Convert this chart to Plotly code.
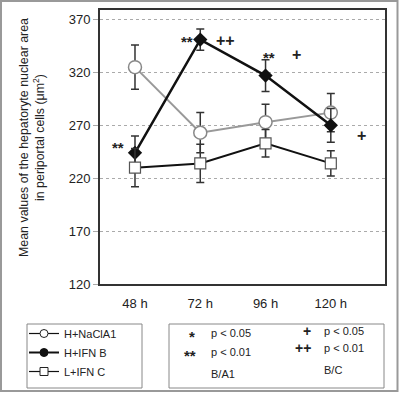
import plotly.graph_objects as go

W, H = 400, 393
categories = ["48 h", "72 h", "96 h", "120 h"]
a1_vals = [325, 263, 273, 282]
a1_err = [21, 19, 17, 18]
b_vals = [244, 351, 317, 270]
b_err = [16, 10, 15, 16]
c_vals = [230, 234, 253, 234]
c_err = [18, 18, 13, 12]
series_names = ["H+NaClA1", "H+IFN B", "L+IFN C"]
y_ticks = [120, 170, 220, 270, 320, 370]


def px(x):
    return x / W


def py(y):
    return 1 - y / H


fig = go.Figure()
fig.add_trace(go.Scatter(
    x=categories, y=a1_vals, name=series_names[0], mode="lines+markers", showlegend=False,
    line=dict(color="#999999", width=2),
    marker=dict(symbol="circle", size=13, color="white", line=dict(color="#888888", width=1.5)),
    error_y=dict(type="data", array=a1_err, color="#333333", thickness=1.5, width=4),
))
fig.add_trace(go.Scatter(
    x=categories, y=b_vals, name=series_names[1], mode="lines+markers", showlegend=False,
    line=dict(color="#111111", width=2.5),
    marker=dict(symbol="diamond", size=11, color="#111111"),
    error_y=dict(type="data", array=b_err, color="#333333", thickness=1.5, width=4),
))
fig.add_trace(go.Scatter(
    x=categories, y=c_vals, name=series_names[2], mode="lines+markers", showlegend=False,
    line=dict(color="#111111", width=2),
    marker=dict(symbol="square", size=11, color="white", line=dict(color="#555555", width=1.2)),
    error_y=dict(type="data", array=c_err, color="#333333", thickness=1.5, width=4),
))

# legend entries (smaller symbols, as in the reference key)
legend_styles = [
    dict(symbol="circle", color="white", line=dict(color="#222222", width=1)),
    dict(symbol="circle", color="#111111", line=dict(color="#111111", width=1)),
    dict(symbol="square", color="white", line=dict(color="#222222", width=1)),
]
for name, ms, lw in zip(series_names, legend_styles, [1.2, 2, 1.2]):
    fig.add_trace(go.Scatter(x=[None], y=[None], name=name, mode="lines+markers",
                             line=dict(color="#111111", width=lw),
                             marker=dict(size=8, **ms)))

font = dict(family="Arial, 'Liberation Sans', sans-serif", color="#222222")

fig.update_layout(
    width=W, height=H,
    margin=dict(l=0, r=0, t=0, b=0),
    paper_bgcolor="white", plot_bgcolor="white",
    font=dict(**font, size=12),
    showlegend=True,
    legend=dict(x=px(24), y=py(319), xanchor="left", yanchor="top",
                bgcolor="rgba(0,0,0,0)", borderwidth=0, itemwidth=30,
                font=dict(**font, size=11), tracegroupgap=0),
    xaxis=dict(domain=[px(100), px(385)], type="category", range=[-0.536, 3.83],
               showgrid=False, zeroline=False, showline=True, linecolor="#333333",
               linewidth=2, mirror=True, ticks="", tickfont=dict(**font, size=13),
               ticklabelstandoff=6, automargin=False),
    yaxis=dict(domain=[py(284), py(10)], range=[120, 379], tickvals=y_ticks,
               showgrid=True, gridcolor="#aaaaaa", griddash="dot", gridwidth=1,
               zeroline=False, showline=True, linecolor="#333333", linewidth=2,
               mirror=True, ticks="outside", ticklen=5, tickcolor="#aaaaaa",
               tickfont=dict(**font, size=13), automargin=False),
)

shapes = [
    dict(type="rect", xref="paper", yref="paper", x0=px(1), x1=px(397.5), y0=py(391), y1=py(1),
         line=dict(color="#999999", width=2)),
    dict(type="rect", xref="paper", yref="paper", x0=px(27), x1=px(142), y0=py(388), y1=py(324),
         line=dict(color="#888888", width=1)),
    dict(type="rect", xref="paper", yref="paper", x0=px(169), x1=px(384), y0=py(388), y1=py(324),
         line=dict(color="#888888", width=1)),
]
fig.update_layout(shapes=shapes)

ann = []


def text(x, y, t, size=11, anchor="left", bold=False):
    ann.append(dict(xref="paper", yref="paper", x=px(x), y=py(y), text=("<b>%s</b>" % t) if bold else t,
                    showarrow=False, xanchor=anchor, yanchor="middle",
                    font=dict(**font, size=size)))


# y axis title
ann.append(dict(xref="paper", yref="paper", x=px(32), y=py(138),
                text="Mean values of the hepatoryte nuclear area<br>in periportal cells (μm<sup>2</sup>)",
                textangle=-90, showarrow=False, xanchor="center", yanchor="middle",
                font=dict(**font, size=12.4)))

# significance marks on chart
text(118, 147, "**", 15, "center", True)
text(187, 42, "**", 15, "center", True)
text(226, 41, "++", 16, "center", True)
text(269, 58, "**", 15, "center", True)
text(296, 55, "+", 16, "center", True)
text(361, 135, "+", 16, "center", True)

# significance legend
text(192, 336, "*", 15, "center", True)
text(209, 333, "p < 0.05")
text(190, 355, "**", 15, "center", True)
text(209, 352, "p < 0.01")
text(209, 374, "B/A1")
text(307, 331, "+", 14, "center", True)
text(322, 331, "p < 0.05")
text(303, 348, "++", 14, "center", True)
text(322, 348, "p < 0.01")
text(322, 370, "B/C")

fig.update_layout(annotations=ann)
fig.write_html("out.html", config={"displayModeBar": False},
               post_script="document.body.style.margin='0px';")
